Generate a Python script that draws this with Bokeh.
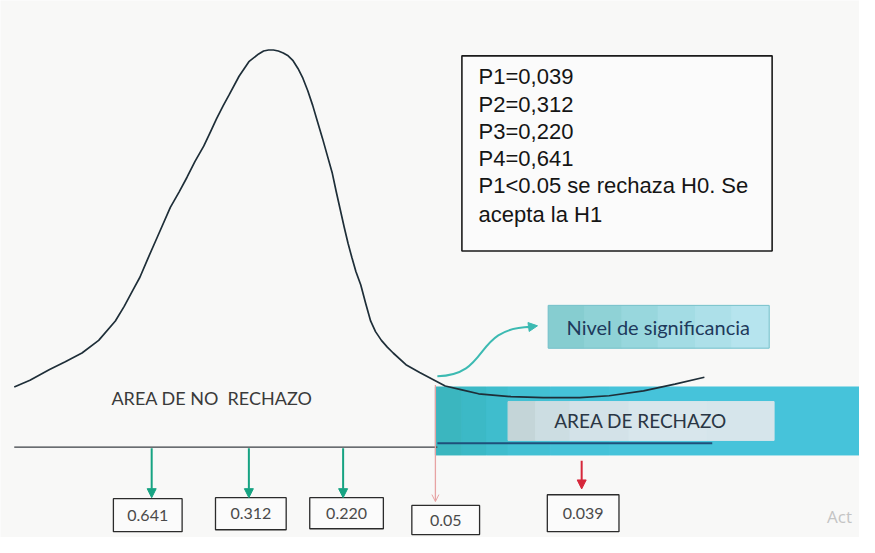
from bokeh.plotting import figure
from bokeh.models import Range1d, Arrow, NormalHead, OpenHead, ColumnDataSource
from bokeh.core.properties import value
from bokeh.embed import file_html
from bokeh.resources import INLINE

# ---------------- data (image-pixel coordinates) -------------
curve_x = [14, 30, 50, 66, 83, 100, 117, 126, 135, 142, 150, 160, 173, 182, 190, 198,
           207, 214, 220, 227, 233, 243, 253, 263, 268, 273, 278, 283, 288, 293, 298,
           303, 308, 313, 318, 323, 328, 333, 338, 342, 346, 350, 354, 358, 362, 367,
           372, 377, 382, 388, 394, 400, 413, 427, 440, 453, 470, 487, 520, 553, 590,
           620, 655, 687, 717]
curve_y = [398, 391, 380, 372, 363, 350, 330, 315, 298, 285, 266, 243, 213, 197, 182, 166,
           150, 135, 122, 108, 97, 78, 63, 55, 52, 51, 51, 52, 54, 57, 62,
           70, 80, 93, 108, 125, 142, 160, 178, 197, 215, 233, 250, 265, 279, 293,
           312, 330, 341, 350, 357, 363, 375, 383, 390, 397, 401, 405, 408, 409, 409,
           407, 402, 395, 388]

p_names = ["P1", "P2", "P3", "P4"]
p_values = ["0,039", "0,312", "0,220", "0,641"]
conclusion = ["P1<0.05 se rechaza H0. Se", "acepta la H1"]

box_labels = ["0.641", "0.312", "0.220", "0.05", "0.039"]
alpha_label = "Nivel de significancia"
reject_label = "AREA DE RECHAZO"
accept_label = "AREA DE NO\u00a0 RECHAZO"

# ---------------- layout -------------
box_left = [115, 219, 315, 419, 557]
box_right = [185, 291, 390, 488, 630]
box_top = [513, 512, 512, 520, 509]
box_bottom = [547, 545, 544, 550, 547]
arrow_x = [154, 253, 349]

p = figure(width=859, height=537, x_range=Range1d(0, 875), y_range=Range1d(553, 0),
           output_backend="svg", toolbar_location=None, min_border=0,
           x_axis_type=None, y_axis_type=None)
p.grid.visible = False
p.outline_line_color = None
p.background_fill_color = "#f8f8f7"
p.border_fill_color = "#f8f8f7"


def bands(colors, edges, top, bottom):
    for i, c in enumerate(colors):
        p.quad(left=[edges[i]], right=[edges[i + 1]], top=[top], bottom=[bottom],
               fill_color=c, line_color=c, line_width=1)


# rejection region (banded gradient)
bands(["#3bb6bf", "#3cb9c6", "#3fbdcd", "#42c0d3", "#45c2d8", "#46c3da"],
      [443, 470, 495, 517, 560, 620, 875], 398, 468)
bands(["#c4d5d8", "#ccdde2", "#d3e2e8", "#d8e6ec", "#d6e5eb"],
      [517, 545, 580, 640, 720, 788], 413, 453)

# baseline
p.line(x=[14, 445], y=[460, 460], line_color="#3a3f45", line_width=1.3)
p.line(x=[445, 725], y=[456, 456], line_color="#1f4f7a", line_width=2)

# curve
p.line(x=curve_x, y=curve_y, line_color="#1e2e38", line_width=1.7)

# alpha label box (banded gradient)
bands(["#86cdd0", "#8fd2d6", "#98d7dd", "#a3dce4", "#ade0e9", "#b6e4ee"],
      [558, 595, 633, 670, 708, 745, 783], 314, 358)
p.quad(left=[558], right=[783], top=[314], bottom=[358], fill_color=None, line_color="#7cc3cc", line_width=1)
p.text(x=[670], y=[336], text=[alpha_label], text_font=value("Lato"), text_font_size="20px",
       text_color="#1e3a5c", text_align="center", text_baseline="middle")

# curved arrow
p.bezier(x0=[445], y0=[387], x1=[540], y1=[336], cx0=[500], cy0=[385], cx1=[480], cy1=[338],
         line_color="#3cbab2", line_width=2)
p.add_layout(Arrow(end=NormalHead(size=9, fill_color="#3cbab2", line_color="#3cbab2"),
                   x_start=536, y_start=336.5, x_end=547, y_end=335,
                   line_color="#3cbab2", line_width=2))

# region labels
p.text(x=[652], y=[433], text=[reject_label], text_font=value("Lato"), text_font_size="19px",
       text_color="#2a3644", text_align="center", text_baseline="middle")
p.text(x=[113], y=[409], text=[accept_label], text_font=value("Lato"), text_font_size="18px",
       text_color="#3a3a3a", text_align="left", text_baseline="middle")

# arrows to boxes
for xa in arrow_x:
    p.add_layout(Arrow(end=NormalHead(size=9, fill_color="#16a382", line_color="#16a382"),
                       x_start=xa, y_start=461, x_end=xa, y_end=512,
                       line_color="#16a382", line_width=2))
p.add_layout(Arrow(end=OpenHead(size=7, line_color="#e7a3a3", line_width=1),
                   x_start=443, y_start=396, x_end=443, y_end=516,
                   line_color="#e7a3a3", line_width=1.3))
p.add_layout(Arrow(end=NormalHead(size=9, fill_color="#d6283b", line_color="#d6283b"),
                   x_start=592, y_start=474, x_end=592, y_end=503,
                   line_color="#d6283b", line_width=2))

# value boxes
src = ColumnDataSource(dict(left=box_left, right=box_right, top=box_top, bottom=box_bottom,
                            label=box_labels,
                            cx=[(a + b) / 2 for a, b in zip(box_left, box_right)],
                            cy=[(a + b) / 2 for a, b in zip(box_top, box_bottom)]))
p.quad(left="left", right="right", top="top", bottom="bottom", source=src,
       fill_color="#fbfbfb", line_color="#2b2b2b", line_width=1.3)
p.text(x="cx", y="cy", text="label", source=src, text_font=value("Lato"),
       text_font_size="16px", text_color="#4a4a4a", text_align="center", text_baseline="middle")

# results text box
p.quad(left=[470], right=[786], top=[57], bottom=[258], fill_color="#fbfbfb",
       line_color="#1a1a1a", line_width=1.6)
lines = [f"{n}={v}" for n, v in zip(p_names, p_values)] + conclusion
line_y = [78, 107, 135, 163, 191, 220]
p.text(x=[487] * len(lines), y=line_y, text=lines, text_font=value("Liberation Sans"),
       text_font_size="22px", text_color="#151515", text_align="left", text_baseline="middle")

# watermark fragment
p.text(x=[842], y=[531], text=["Act"], text_font=value("Open Sans"), text_font_size="17px",
       text_color="#c4c4c4", text_align="left", text_baseline="middle")

open("out.html", "w").write(file_html(p, INLINE))
